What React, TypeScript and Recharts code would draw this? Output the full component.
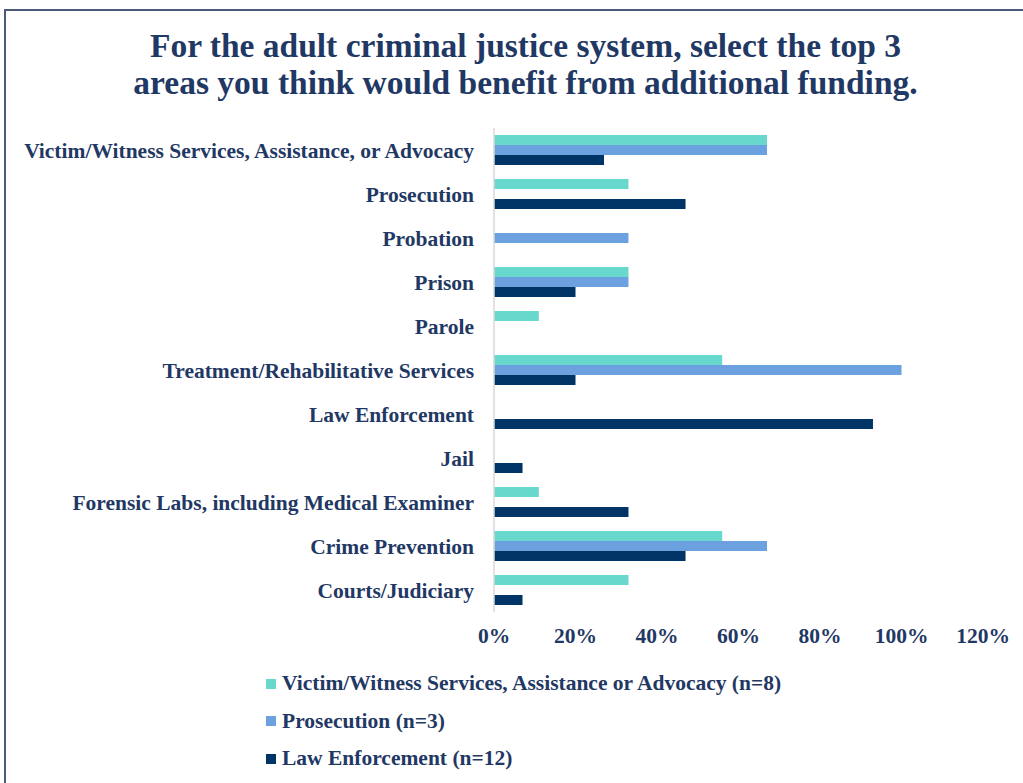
import React from 'react';
import { BarChart, Bar, XAxis, YAxis } from 'recharts';

const categories = [
    'Victim/Witness Services, Assistance, or Advocacy',
    'Prosecution',
    'Probation',
    'Prison',
    'Parole',
    'Treatment/Rehabilitative Services',
    'Law Enforcement',
    'Jail',
    'Forensic Labs, including Medical Examiner',
    'Crime Prevention',
    'Courts/Judiciary',
];

// shares of respondents per group
const victimWitness = [0.67, 0.33, 0, 0.33, 0.11, 0.56, 0, 0, 0.11, 0.56, 0.33];
const prosecution = [0.67, 0, 0.33, 0.33, 0, 1.0, 0, 0, 0, 0.67, 0];
const lawEnforcement = [0.27, 0.47, 0, 0.2, 0, 0.2, 0.93, 0.07, 0.33, 0.47, 0.07];

const xTicks = [0, 0.2, 0.4, 0.6, 0.8, 1.0, 1.2];

const seriesNames = [
    'Victim/Witness Services, Assistance or Advocacy (n=8)',
    'Prosecution (n=3)',
    'Law Enforcement (n=12)',
];

const TEAL = '#67D8CB';
const BLUE = '#6CA1E0';
const NAVY = '#003366';
const TEXT = '#1F3864';
const FONT = '"Liberation Serif", "Times New Roman", serif';

const data = categories.map((name, i) => ({
    name,
    victim: victimWitness[i],
    prosecution: prosecution[i],
    law: lawEnforcement[i],
}));

export default function App() {
    const legendColors = [TEAL, BLUE, NAVY];

    return (
        <div style={{ position: 'absolute', left: 0, top: 0, width: 1023, height: 783, background: '#fff', overflow: 'hidden', fontFamily: FONT }}>
            {/* frame edge */}
            <div style={{ position: 'absolute', left: 4, top: 9, width: 1040, height: 800, borderLeft: '2px solid #4B5A78', borderTop: '2px solid #4B5A78' }} />

            <div style={{ position: 'absolute', left: 14, top: 27, width: 1023, textAlign: 'center', color: TEXT, fontSize: 33.5, fontWeight: 'bold', lineHeight: '37px' }}>
                For the adult criminal justice system, select the top 3<br />
                areas you think would benefit from additional funding.
            </div>

            <div style={{ position: 'absolute', left: 0, top: 0 }}>
                <BarChart
                    width={1023}
                    height={660}
                    data={data}
                    layout="vertical"
                    margin={{ top: 128, right: 40, left: 0, bottom: 0 }}
                    barGap={0}
                    barSize={10}
                    style={{ fontFamily: FONT }}
                >
                    <XAxis
                        type="number"
                        domain={[0, 1.2]}
                        ticks={xTicks}
                        axisLine={false}
                        tickLine={false}
                        tickSize={0}
                        tickMargin={16}
                        interval={0}
                        height={48}
                        tickFormatter={(v: number) => `${Math.round(v * 100)}%`}
                        tick={{ fontSize: 21.5, fontWeight: 'bold', fill: TEXT }}
                    />
                    <YAxis
                        type="category"
                        dataKey="name"
                        width={494}
                        axisLine={{ stroke: '#D9D9D9', strokeWidth: 1.5 }}
                        tickLine={false}
                        tickSize={0}
                        tickMargin={20}
                        interval={0}
                        tick={{ fontSize: 21.5, fontWeight: 'bold', fill: TEXT }}
                    />
                    <Bar dataKey="victim" fill={TEAL} isAnimationActive={false} />
                    <Bar dataKey="prosecution" fill={BLUE} isAnimationActive={false} />
                    <Bar dataKey="law" fill={NAVY} isAnimationActive={false} />
                </BarChart>
            </div>

            <div style={{ position: 'absolute', left: 266, top: 665, color: TEXT, fontSize: 21.5, fontWeight: 'bold' }}>
                {seriesNames.map((s, i) => (
                    <div key={s} style={{ display: 'flex', alignItems: 'center', height: 37.5 }}>
                        <span style={{ display: 'inline-block', width: 10, height: 10, background: legendColors[i], marginRight: 6 }} />
                        <span>{s}</span>
                    </div>
                ))}
            </div>
        </div>
    );
}
